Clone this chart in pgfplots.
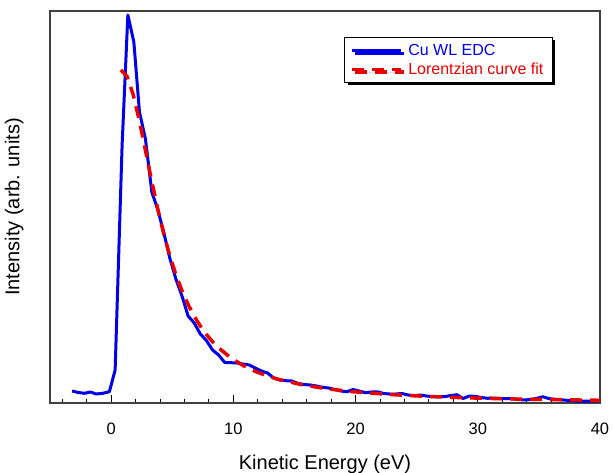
\documentclass[border=0pt]{standalone}
\usepackage{pgfplots}
\pgfplotsset{compat=1.18}
\usepackage{fontspec}
\setmainfont{Liberation Sans}
\usetikzlibrary{shadows}
\definecolor{cblue}{RGB}{0,0,230}
\definecolor{cred}{RGB}{232,0,0}
\begin{document}
\begin{tikzpicture}
\begin{axis}[
  scale only axis, width=550pt, height=392pt,
  xmin=-5, xmax=40, ymin=0, ymax=392,
  xtick={0,10,20,30,40},
  minor xtick={-4,-2,...,38},
  ytick=\empty,
  xtick pos=bottom,
  tick align=inside,
  major tick length=8pt, minor tick length=4pt,
  every tick/.style={black, line width=0.9pt},
  axis line style={line width=1.2pt, black!75},
  /pgf/number format/assume math mode=true,
  ticklabel style={font=\fontsize{16.5}{19}\selectfont},
  xticklabel style={anchor=base, yshift=-31pt},
  xlabel={Kinetic Energy (eV)},
  ylabel={Intensity (arb. units)},
  label style={font=\fontsize{20}{24}\selectfont},
  xlabel style={at={(axis description cs:0.5,-0.169)}, anchor=base},
  ylabel style={at={(axis description cs:-0.0555,0.5)}, anchor=base},
  legend style={at={(axis description cs:0.5345,0.934)}, anchor=north west,
    draw=black, line width=1.2pt, font=\fontsize{16}{19}\selectfont,
    inner xsep=6pt, inner ysep=4.5pt, row sep=2pt, column sep=3pt,
    nodes={inner ysep=2pt, inner xsep=3pt},
    drop shadow={shadow xshift=3pt, shadow yshift=-3pt, fill=black, opacity=1}},
  legend cell align=left,
  legend image code/.code={\draw[#1, line width=2.7pt] (0pt,0pt) -- (49pt,0pt);},
]
\coordinate (bl) at (rel axis cs:0,0);
\coordinate (tr) at (rel axis cs:1,1);
\addplot[cblue, line width=3pt, line join=round] coordinates {
(-3.19,12) (-2.68,10.5) (-2.18,9.7) (-1.69,11) (-1.23,9) (-0.68,9.7) (-0.14,11.3)
(0.33,33) (0.9,258) (1.37,388) (1.86,361) (2.32,291) (2.81,264) (3.33,211)
(3.8,194) (4.3,171) (4.8,145) (5.3,124) (5.8,107) (6.3,87) (6.8,80) (7.3,69)
(7.8,62.5) (8.3,53) (8.8,48) (9.3,40.5) (9.8,40.3) (10.3,40) (10.8,39) (11.3,38)
(11.8,35) (12.3,32) (12.8,30) (13.3,25) (13.8,23) (14.3,22.3) (14.8,22) (15.3,19.5)
(15.8,18.5) (16.3,18) (16.8,17) (17.3,15.7) (17.8,15) (18.3,13.5) (18.8,12) (19.3,11.3)
(19.8,13.5) (20.3,12) (20.8,10.3) (21.3,11) (21.8,11.2) (22.3,9.5) (22.8,9) (23.3,9)
(23.8,9.5) (24.3,8) (24.8,7.3) (25.3,8) (25.8,7) (26.3,6.3) (26.8,6.5) (27.3,6.3)
(27.8,7.5) (28.3,8.3) (28.8,4.5) (29.3,7) (29.8,6.5) (30.3,5.5) (30.8,4.7) (31.3,5)
(31.8,4.5) (32.3,4.5) (32.8,4.2) (33.3,3.5) (33.8,3) (34.3,3.5) (34.8,4.5) (35.3,6.3)
(35.8,4.5) (36.3,3.7) (36.8,3.2) (37.3,2.7) (37.8,2.2) (38.3,1.7) (38.8,2) (39.3,2)
(39.8,2.3) (40,2.3)
};
\addlegendentry{\textcolor{cblue}{Cu WL EDC}}
\addplot[cred, line width=3.5pt, dash pattern=on 12pt off 8pt] coordinates {
(0.8,333) (1.3,326.6) (1.8,308.7) (2.3,282.9) (2.8,253.2) (3.3,223.2) (3.8,194.9)
(4.3,169.5) (4.8,147.3) (5.3,128.4) (5.8,112.2) (6.3,98.5) (6.8,86.8) (7.3,77.0)
(7.8,68.5) (8.3,61.3) (8.8,55.1) (9.8,45.1) (10.8,37.5) (11.8,31.6) (12.8,27.0)
(13.8,23.3) (15.8,17.8) (17.8,14.0) (19.8,11.3) (22.8,8.5) (25.8,6.6) (28.8,5.3)
(31.8,4.3) (34.8,3.6) (37.8,3.1) (40,2.7)
};
\addlegendentry{\textcolor{cred}{Lorentzian curve fit}\hspace{9pt}}
\end{axis}
\pgfresetboundingbox
\path[use as bounding box] ([shift={(-50pt,-69pt)}]bl) rectangle ([shift={(13pt,11pt)}]tr);
\end{tikzpicture}
\end{document}
